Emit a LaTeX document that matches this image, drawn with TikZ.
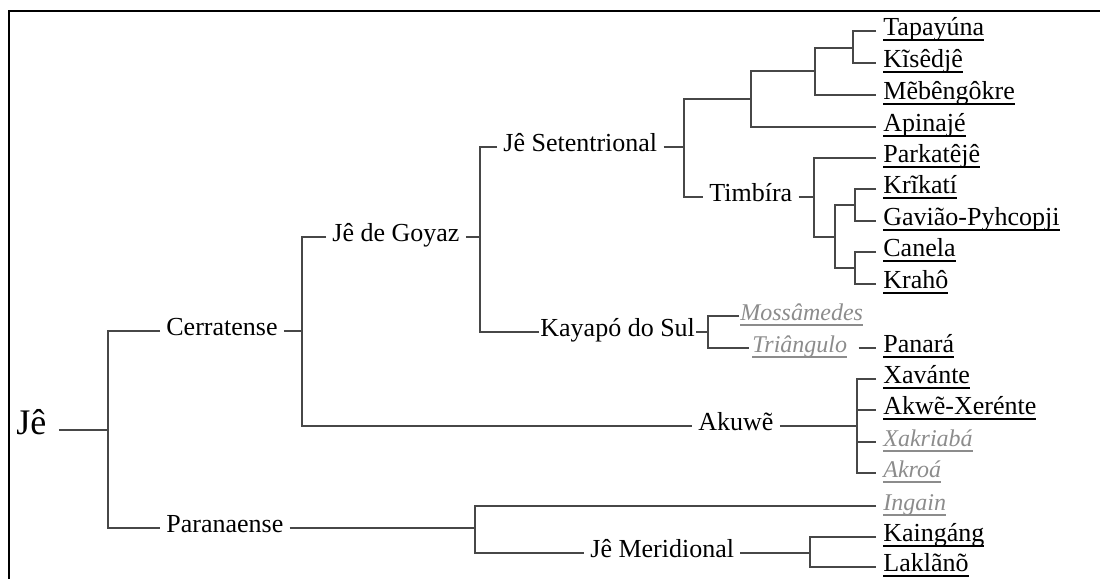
\documentclass[tikz,border=0pt]{standalone}
\usepackage{fontspec}
\setmainfont{Liberation Serif}
\newcommand{\ulang}[1]{\setbox0\hbox{#1}\rlap{\rule[-2.6pt]{\wd0}{1.1pt}}\box0}

\begin{document}
\begin{tikzpicture}[x=0.5pt,y=-0.5pt,
    branch/.style={draw=black!72,line width=0.75pt},
    grp/.style={anchor=mid west,inner xsep=3pt,font=\fontsize{13}{15}\selectfont},
    lang/.style={grp,inner xsep=3.5pt},
    lost/.style={lang,text=black!45,font=\fontsize{12}{15}\selectfont\itshape}]
    \useasboundingbox (0,0) rectangle (1100,579);
    \draw[line width=1.1pt] (1110,11) -| (9,590);

    % groups
    \node[anchor=mid west,inner xsep=0pt,font=\fontsize{18}{20}\selectfont] (je) at (16,430) {Jê};
    \node[grp] (cer) at (160,331) {Cerratense};
    \node[grp] (par) at (160,528) {Paranaense};
    \node[grp] (gyz) at (326,237) {Jê de Goyaz};
    \node[grp] (set) at (497,147) {Jê Setentrional};
    \node[grp,inner xsep=0.5pt] (kay) at (539,332) {Kayapó do Sul};
    \node[grp] (tim) at (703,197) {Timbíra};
    \node[grp] (aku) at (692,426) {Akuwẽ};
    \node[grp] (mer) at (584,553) {Jê Meridional};

    % languages
    \node[lang] (tap) at (876,31) {\ulang{Tapayúna}};
    \node[lang] (kis) at (876,63) {\ulang{Kĩsêdjê}};
    \node[lang] (meb) at (876,95) {\ulang{Mẽbêngôkre}};
    \node[lang] (api) at (876,127) {\ulang{Apinajé}};
    \node[lang] (pkt) at (876,158) {\ulang{Parkatêjê}};
    \node[lang] (kri) at (876,189) {\ulang{Krĩkatí}};
    \node[lang] (gav) at (876,221) {\ulang{Gavião-Pyhcopji}};
    \node[lang] (can) at (876,252) {\ulang{Canela}};
    \node[lang] (kra) at (876,284) {\ulang{Krahô}};
    \node[lost,inner xsep=0.5pt] (mos) at (739,316) {\ulang{Mossâmedes}};
    \node[lost,inner xsep=1.5pt] (tri) at (749,348) {\ulang{Triângulo}};
    \node[lang] (pan) at (876,348) {\ulang{Panará}};
    \node[lang] (xav) at (876,379) {\ulang{Xavánte}};
    \node[lang] (akw) at (876,410) {\ulang{Akwẽ-Xerénte}};
    \node[lost] (xak) at (876,442) {\ulang{Xakriabá}};
    \node[lost] (akr) at (876,473) {\ulang{Akroá}};
    \node[lost] (ing) at (876,506) {\ulang{Ingain}};
    \node[lang] (kai) at (876,537) {\ulang{Kaingáng}};
    \node[lang] (lak) at (876,567) {\ulang{Laklãnõ}};

    % split points
    \coordinate (bje) at (108,430);
    \coordinate (bcer) at (302,331);
    \coordinate (bgyz) at (480,237);
    \coordinate (bset) at (684,147);
    \coordinate (ba) at (751,99);
    \coordinate (bb) at (815,71);
    \coordinate (bc) at (853,48);
    \coordinate (btim) at (814,197);
    \coordinate (bd) at (835,237);
    \coordinate (be) at (855,205);
    \coordinate (bf) at (855,268);
    \coordinate (bkay) at (708,332);
    \coordinate (baku) at (857,426);
    \coordinate (bpar) at (475,528);
    \coordinate (bmer) at (810,553);

    % tree
    \draw[branch] ([xshift=6pt]je.mid east) -- (bje);
    \draw[branch] (cer.mid west) -| (bje) |- (par.mid west);
    \draw[branch] (cer.mid east) -- (bcer);
    \draw[branch] (gyz.mid west) -| (bcer) |- (aku.mid west);
    \draw[branch] (gyz.mid east) -- (bgyz);
    \draw[branch] (set.mid west) -| (bgyz) |- (kay.mid west);
    \draw[branch] (set.mid east) -- (bset);
    \draw[branch] (ba) -| (bset) |- (tim.mid west);
    \draw[branch] (bb) -| (ba) |- (api.mid west);
    \draw[branch] (bc) -| (bb) |- (meb.mid west);
    \draw[branch] (tap.mid west) -| (bc) |- (kis.mid west);
    \draw[branch] (tim.mid east) -- (btim);
    \draw[branch] (pkt.mid west) -| (btim) |- (bd);
    \draw[branch] (be) -| (bd) |- (bf);
    \draw[branch] (kri.mid west) -| (be) |- (gav.mid west);
    \draw[branch] (can.mid west) -| (bf) |- (kra.mid west);
    \draw[branch] (kay.mid east) -- (bkay);
    \draw[branch] (mos.mid west) -| (bkay) |- (tri.mid west);
    \draw[branch] ([xshift=4pt]tri.mid east) -- (pan.mid west);
    \draw[branch] (aku.mid east) -- (baku);
    \draw[branch] (xav.mid west) -| (baku) |- (akr.mid west);
    \draw[branch] (baku |- akw.mid west) -- (akw.mid west);
    \draw[branch] (baku |- xak.mid west) -- (xak.mid west);
    \draw[branch] (par.mid east) -- (bpar);
    \draw[branch] (ing.mid west) -| (bpar) |- (mer.mid west);
    \draw[branch] (mer.mid east) -- (bmer);
    \draw[branch] (kai.mid west) -| (bmer) |- (lak.mid west);
\end{tikzpicture}
\end{document}
